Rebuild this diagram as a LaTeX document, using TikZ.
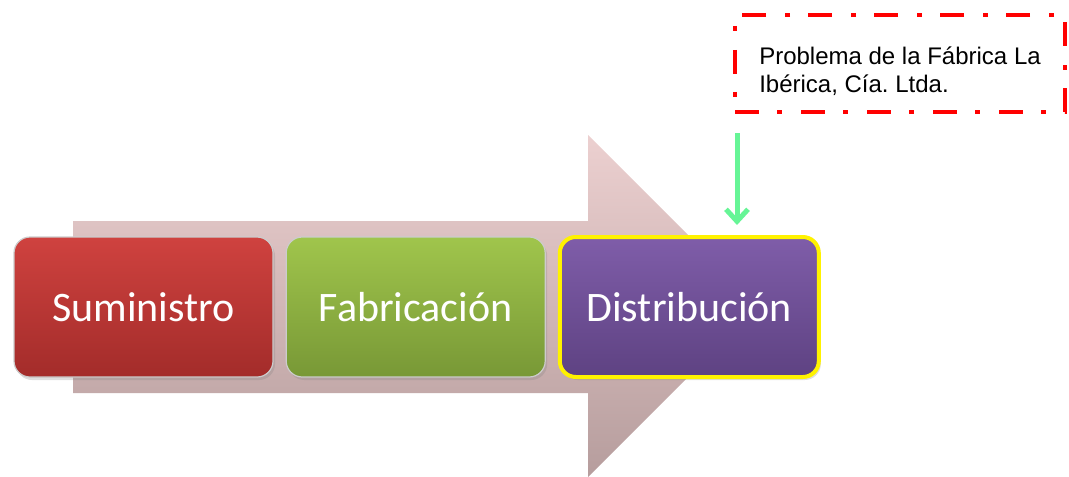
\documentclass[tikz,border=0pt]{standalone}
\usepackage{fontspec}
\setmainfont{Liberation Sans}
\newfontfamily\calibri{Carlito}
\usepackage{tikz}
\usetikzlibrary{positioning, arrows.meta, shadows}
\frenchspacing

\definecolor{rojoA}{RGB}{207,66,63}
\definecolor{rojoB}{RGB}{163,44,42}
\definecolor{verdeA}{RGB}{160,197,76}
\definecolor{verdeB}{RGB}{120,152,54}
\definecolor{moradoA}{RGB}{127,93,169}
\definecolor{moradoB}{RGB}{94,66,130}
\definecolor{flechaA}{RGB}{236,208,208}
\definecolor{flechaB}{RGB}{182,157,157}
\definecolor{verdeclaro}{RGB}{102,245,150}

\tikzset{
etapa/.style={rounded corners=8pt, minimum width=129.5pt, minimum height=70pt, font=\calibri\fontsize{21}{25}\selectfont, text=white, draw=white!60!gray, line width=.6pt, drop shadow={opacity=.25, shadow xshift=1pt, shadow yshift=-1.5pt}},
probbox/.style={draw=red, line width=2pt, dash pattern=on 12pt off 9pt on 2.5pt off 9.5pt, minimum width=165pt, minimum height=48.5pt, align=left, font=\fontsize{12}{14}\selectfont},
bajada/.style={draw=verdeclaro, line width=2.5pt, -{Straight Barb[length=6pt, width=11pt]}, shorten >=5pt}
}

\begin{document}
\begin{tikzpicture}[x=.5pt, y=-.5pt, node distance=6pt]
\useasboundingbox (0,0) rectangle (1069,476);
\shade[top color=flechaA, bottom color=flechaB] (73,221) -- (588,221) -- (588,135) -- (759,306) -- (588,477) -- (588,393) -- (73,393) -- cycle;
\node[etapa, top color=rojoA, bottom color=rojoB] (sum) at (143.5,307) {Suministro};
\node[etapa, top color=verdeA, bottom color=verdeB, right=of sum] (fab) {Fabricación};
\node[etapa, top color=moradoA, bottom color=moradoB, draw=yellow, line width=2pt, right=of fab] (dist) {Distribución};
\node[probbox] (prob) at (900,63.5) {\rule{0pt}{17pt}Problema de la Fábrica La\\ Ibérica, Cía. Ltda.};
\coordinate (ini) at (737,133);
\draw[bajada] (ini) -- (ini |- dist.north);
\end{tikzpicture}
\end{document}
